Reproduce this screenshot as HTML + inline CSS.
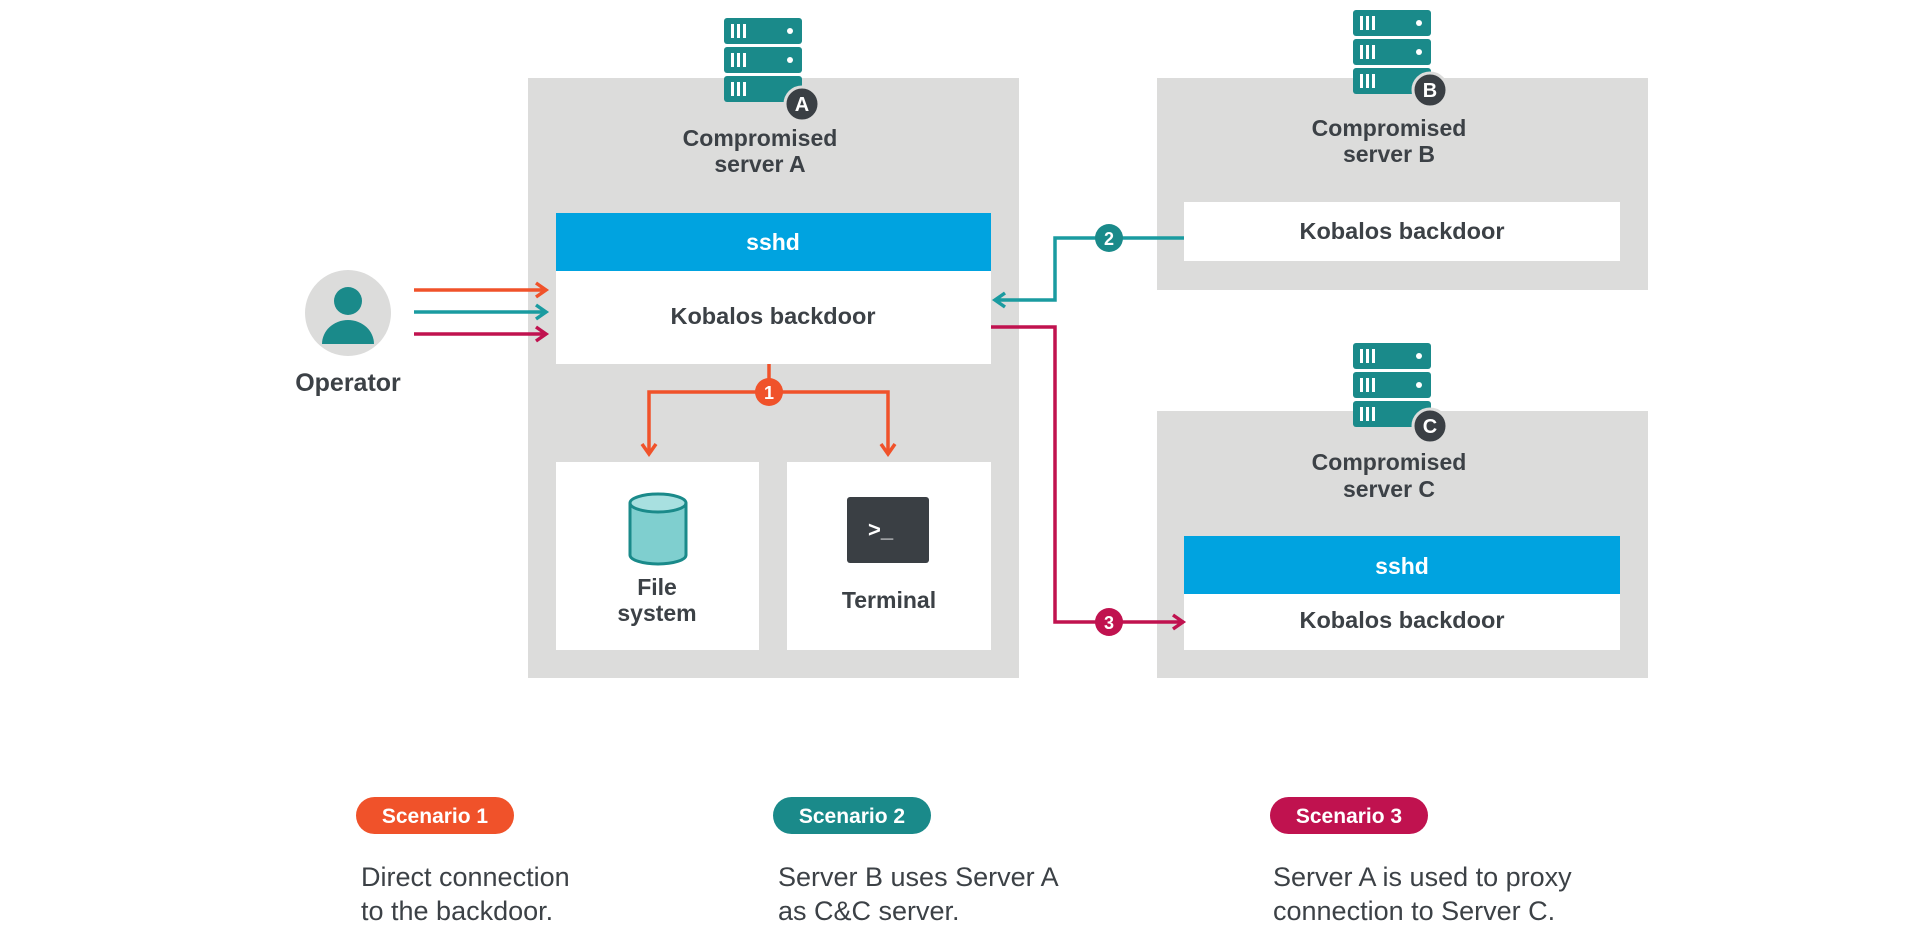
<!DOCTYPE html>
<html><head><meta charset="utf-8"><style>
body{margin:0;width:1920px;height:942px;background:#fff;overflow:hidden;font-family:"Liberation Sans",sans-serif;}
</style></head><body>
<svg width="1920" height="942" xmlns="http://www.w3.org/2000/svg" font-family="Liberation Sans, sans-serif">
<defs>
<g id="srv">
  <rect x="0" y="0" width="78" height="26" rx="3" fill="#1a8a8a"/>
  <rect x="0" y="29" width="78" height="26" rx="3" fill="#1a8a8a"/>
  <rect x="0" y="58" width="78" height="26" rx="3" fill="#1a8a8a"/>
  <g fill="#fff"><rect x="7" y="6" width="3" height="14"/><rect x="13" y="6" width="3" height="14"/><rect x="19" y="6" width="3" height="14"/><circle cx="66" cy="13" r="3"/>
  <rect x="7" y="35" width="3" height="14"/><rect x="13" y="35" width="3" height="14"/><rect x="19" y="35" width="3" height="14"/><circle cx="66" cy="42" r="3"/>
  <rect x="7" y="64" width="3" height="14"/><rect x="13" y="64" width="3" height="14"/><rect x="19" y="64" width="3" height="14"/></g>
</g>
</defs>
<rect x="528" y="78" width="491" height="600" fill="#dcdcdb"/>
<rect x="1157" y="78" width="491" height="212" fill="#dcdcdb"/>
<rect x="1157" y="411" width="491" height="267" fill="#dcdcdb"/>
<use href="#srv" x="724" y="18"/>
<circle cx="802" cy="104" r="17" fill="#3a3f44" stroke="#dcdcdb" stroke-width="3"/>
<text x="802" y="111" font-size="20" font-weight="bold" fill="#fff" text-anchor="middle">A</text>
<use href="#srv" x="1353" y="10"/>
<circle cx="1430" cy="90" r="17" fill="#3a3f44" stroke="#dcdcdb" stroke-width="3"/>
<text x="1430" y="97" font-size="20" font-weight="bold" fill="#fff" text-anchor="middle">B</text>
<use href="#srv" x="1353" y="343"/>
<circle cx="1430" cy="426" r="17" fill="#3a3f44" stroke="#dcdcdb" stroke-width="3"/>
<text x="1430" y="433" font-size="20" font-weight="bold" fill="#fff" text-anchor="middle">C</text>
<g font-size="23" font-weight="bold" fill="#3c4146" text-anchor="middle">
<text x="760" y="146">Compromised</text><text x="760" y="172">server A</text>
<text x="1389" y="136">Compromised</text><text x="1389" y="162">server B</text>
<text x="1389" y="470">Compromised</text><text x="1389" y="497">server C</text>
</g>
<rect x="556" y="213" width="435" height="58" fill="#00a3e0"/>
<text x="773" y="250" font-size="23" font-weight="bold" fill="#fff" text-anchor="middle">sshd</text>
<rect x="556" y="271" width="435" height="93" fill="#fff"/>
<text x="773" y="324" font-size="23.5" font-weight="bold" fill="#3c4146" text-anchor="middle">Kobalos backdoor</text>
<rect x="556" y="462" width="203" height="188" fill="#fff"/>
<rect x="787" y="462" width="204" height="188" fill="#fff"/>
<path d="M630 503 v52 a28 9 0 0 0 56 0 v-52" fill="#7fcfcf" stroke="#1a8a8a" stroke-width="3"/>
<ellipse cx="658" cy="503" rx="28" ry="9" fill="#a8e0e0" stroke="#1a8a8a" stroke-width="3"/>
<rect x="847" y="497" width="82" height="66" rx="3" fill="#3a3f44"/>
<text x="868" y="537" font-size="22" font-weight="bold" fill="#fff">&gt;_</text>
<g font-size="23" font-weight="bold" fill="#3c4146" text-anchor="middle">
<text x="657" y="595">File</text><text x="657" y="621">system</text>
<text x="889" y="608">Terminal</text>
</g>
<rect x="1184" y="202" width="436" height="59" fill="#fff"/>
<text x="1402" y="239" font-size="23.5" font-weight="bold" fill="#3c4146" text-anchor="middle">Kobalos backdoor</text>
<rect x="1184" y="536" width="436" height="58" fill="#00a3e0"/>
<text x="1402" y="574" font-size="23" font-weight="bold" fill="#fff" text-anchor="middle">sshd</text>
<rect x="1184" y="594" width="436" height="56" fill="#fff"/>
<text x="1402" y="628" font-size="23.5" font-weight="bold" fill="#3c4146" text-anchor="middle">Kobalos backdoor</text>
<circle cx="348" cy="313" r="43" fill="#dcdcdb"/>
<circle cx="348" cy="301" r="14" fill="#1a8a8a"/>
<path d="M322 344 a26 24 0 0 1 52 0 z" fill="#1a8a8a"/>
<text x="348" y="391" font-size="25" font-weight="bold" fill="#3c4146" text-anchor="middle">Operator</text>
<g stroke-width="3.5" fill="none">
<path d="M414 290 H545 M536 283 L546 290 L536 297" stroke="#f0522a"/>
<path d="M414 312 H545 M536 305 L546 312 L536 319" stroke="#1a9ba0"/>
<path d="M414 334 H545 M536 327 L546 334 L536 341" stroke="#c0124f"/>
</g>
<g stroke="#f0522a" stroke-width="3.5" fill="none">
<path d="M769 364 V392 M649 452 V392 H888 V452"/>
<path d="M642 444 L649 454 L656 444 M881 444 L888 454 L895 444"/>
</g>
<circle cx="769" cy="392" r="14" fill="#f0522a"/>
<text x="769" y="399" font-size="18" font-weight="bold" fill="#fff" text-anchor="middle">1</text>
<g stroke="#1a9ba0" stroke-width="3.5" fill="none">
<path d="M1184 238 H1055 V300 H996 M1005 293 L995 300 L1005 307"/>
</g>
<circle cx="1109" cy="238" r="14" fill="#1a8a8a"/>
<text x="1109" y="245" font-size="18" font-weight="bold" fill="#fff" text-anchor="middle">2</text>
<g stroke="#c0124f" stroke-width="3.5" fill="none">
<path d="M991 327 H1055 V622 H1182 M1173 615 L1183 622 L1173 629"/>
</g>
<circle cx="1109" cy="622" r="14" fill="#c0124f"/>
<text x="1109" y="629" font-size="18" font-weight="bold" fill="#fff" text-anchor="middle">3</text>
<rect x="356" y="797" width="158" height="37" rx="18.5" fill="#f0522a"/>
<text x="435" y="823" font-size="21" font-weight="bold" fill="#fff" text-anchor="middle">Scenario 1</text>
<rect x="773" y="797" width="158" height="37" rx="18.5" fill="#1a8a8a"/>
<text x="852" y="823" font-size="21" font-weight="bold" fill="#fff" text-anchor="middle">Scenario 2</text>
<rect x="1270" y="797" width="158" height="37" rx="18.5" fill="#c0124f"/>
<text x="1349" y="823" font-size="21" font-weight="bold" fill="#fff" text-anchor="middle">Scenario 3</text>
<g font-size="27" fill="#3c4146">
<text x="361" y="886">Direct connection</text><text x="361" y="920">to the backdoor.</text>
<text x="778" y="886">Server B uses Server A</text><text x="778" y="920">as C&amp;C server.</text>
<text x="1273" y="886">Server A is used to proxy</text><text x="1273" y="920">connection to Server C.</text>
</g>
</svg>
</body></html>
